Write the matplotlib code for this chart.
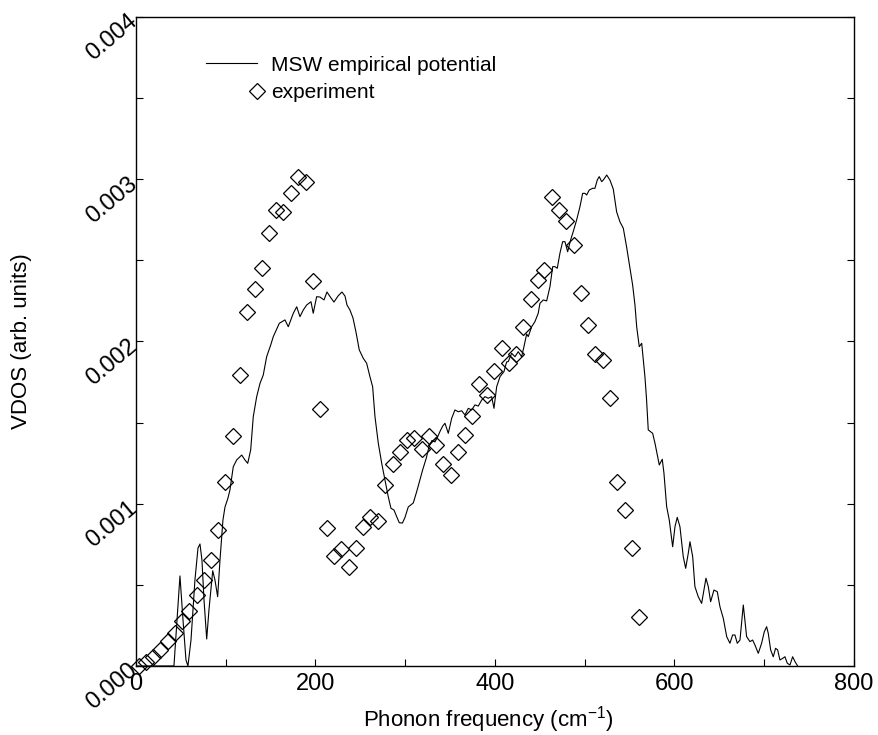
import matplotlib
matplotlib.use("Agg")
import matplotlib.pyplot as plt
from matplotlib.ticker import MultipleLocator

plt.rcParams["font.family"] = ["Liberation Sans", "DejaVu Sans"]
plt.rcParams["mathtext.fontset"] = "custom"
plt.rcParams["mathtext.rm"] = "Liberation Sans"

# ---------------------------------------------
# MSW empirical potential (simulated VDOS)
# ---------------------------------------------
sim_freq = [
    0.0, 32.3, 37.9, 42.3, 45.7, 49.0, 52.4, 55.7, 57.9, 61.3, 65.7, 69.1,
    71.3, 73.5, 75.8, 78.8, 81.3, 85.5, 88.0, 91.0, 93.6, 96.9, 99.2, 102.5,
    104.7, 108.4, 112.2, 117.8, 121.4, 124.5, 127.8, 130.7, 134.5, 138.2,
    141.8, 145.6, 150.1, 153.0, 159.7, 166.0, 169.7, 175.3, 179.1, 182.7,
    186.4, 190.2, 195.0, 197.5, 201.3, 205.0, 209.5, 212.8, 217.3, 220.6,
    225.1, 229.5, 232.9, 235.1, 238.4, 241.8, 245.1, 248.8, 253.3, 257.0,
    260.7, 263.7, 266.3, 270.0, 273.8, 277.4, 281.1, 284.1, 287.5, 290.5,
    293.4, 296.9, 299.7, 303.4, 306.1, 309.0, 312.8, 315.9, 319.4, 323.5,
    326.5, 329.8, 333.1, 336.2, 338.7, 341.8, 344.3, 348.0, 351.8, 355.4,
    359.1, 362.9, 366.6, 370.3, 374.0, 377.7, 381.4, 385.2, 388.9, 392.5,
    396.3, 398.9, 401.9, 405.6, 410.0, 413.0, 414.8, 418.6, 422.3, 425.9,
    429.7, 432.3, 435.3, 437.1, 440.9, 444.6, 448.2, 450.1, 453.8, 457.6,
    461.3, 464.3, 466.9, 469.4, 472.4, 475.4, 478.0, 481.0, 484.3, 487.2,
    491.0, 494.7, 497.7, 500.3, 502.2, 505.1, 508.9, 511.4, 514.0, 516.2,
    518.9, 520.7, 524.5, 528.1, 531.8, 535.6, 539.3, 543.0, 546.7, 550.4,
    553.4, 556.0, 557.9, 560.8, 563.5, 567.1, 568.8, 570.8, 575.7, 578.3,
    583.1, 586.4, 588.3, 591.3, 594.2, 598.0, 600.6, 603.1, 606.1, 609.8,
    612.5, 615.4, 617.3, 620.3, 622.8, 626.5, 630.3, 632.9, 635.1, 637.7,
    640.3, 644.0, 647.7, 650.7, 654.4, 658.2, 661.8, 664.8, 667.4, 670.0,
    673.0, 676.7, 680.4, 684.1, 687.1, 689.7, 693.4, 697.1, 700.1, 702.7,
    704.5, 707.2, 710.1, 712.7, 715.0, 717.5, 720.6, 723.1, 725.7, 728.7,
    731.7, 734.3, 737.3,
]
sim_vdos = [
    0.0, 0.0, 0.0, 0.0, 0.000284, 0.000555, 0.000284, 0.000037, 0.0,
    0.00016, 0.00053, 0.000727, 0.000752, 0.000653, 0.000407, 0.000166,
    0.000345, 0.000587, 0.00053, 0.000427, 0.000653, 0.0009, 0.00098,
    0.001035, 0.001085, 0.001228, 0.00127, 0.0013, 0.00127, 0.001249,
    0.001331, 0.001537, 0.00166, 0.001742, 0.001793, 0.001906, 0.001978,
    0.00203, 0.002112, 0.002133, 0.002091, 0.002174, 0.002214, 0.002153,
    0.002194, 0.002225, 0.002245, 0.002174, 0.002276, 0.002274, 0.002256,
    0.002305, 0.002268, 0.002243, 0.00228, 0.002305, 0.00228, 0.002225,
    0.002194, 0.002145, 0.002059, 0.001948, 0.001896, 0.001866, 0.001783,
    0.001721, 0.001537, 0.001373, 0.001249, 0.001146, 0.001043, 0.000972,
    0.000961, 0.00092, 0.000883, 0.000881, 0.000915, 0.00098, 0.000992,
    0.001005, 0.001075, 0.001137, 0.001208, 0.001282, 0.001352, 0.00139,
    0.001381, 0.001413, 0.001445, 0.001479, 0.001496, 0.001434, 0.001527,
    0.001578, 0.001567, 0.001573, 0.001547, 0.001588, 0.001578, 0.001609,
    0.001602, 0.001639, 0.00166, 0.00165, 0.00166, 0.001588, 0.001721,
    0.001783, 0.001814, 0.001874, 0.001876, 0.001927, 0.001906, 0.001937,
    0.001906, 0.001968, 0.002046, 0.00203, 0.002091, 0.002123, 0.002174,
    0.002235, 0.002256, 0.00225, 0.002338, 0.002461, 0.002461, 0.002451,
    0.002544, 0.002615, 0.002615, 0.002553, 0.002626, 0.002677, 0.002749,
    0.002831, 0.002913, 0.002913, 0.002903, 0.002934, 0.002944, 0.002944,
    0.002995, 0.003016, 0.002985, 0.002995, 0.003026, 0.002995, 0.00294,
    0.002798, 0.002737, 0.002698, 0.002582, 0.002453, 0.002348, 0.002225,
    0.002091, 0.001968, 0.001989, 0.001783, 0.001652, 0.001455, 0.001434,
    0.001373, 0.001239, 0.001274, 0.001188, 0.000982, 0.0009, 0.000735,
    0.000859, 0.000916, 0.000859, 0.000674, 0.000602, 0.000695, 0.000766,
    0.000674, 0.000489, 0.000427, 0.000386, 0.000468, 0.000541, 0.000489,
    0.000396, 0.000468, 0.000458, 0.000365, 0.000294, 0.000181, 0.00014,
    0.000191, 0.000191, 0.00014, 0.00016, 0.000376, 0.000181, 0.00015,
    0.00016, 0.000129, 0.000078, 0.00014, 0.000211, 0.000242, 0.000202,
    0.000099, 0.000057, 0.000109, 0.000099, 0.000037, 0.000047, 0.000057,
    0.000017, 0.000006, 0.000057, 0.000027, 0.0,
]

# ---------------------------------------------
# experiment (diamonds)
# ---------------------------------------------
exp_freq = [
    3.3, 11.1, 19.3, 27.1, 35.3, 43.5, 51.6, 59.4, 68.0, 76.1, 84.1, 91.9,
    99.7, 108.1, 116.2, 124.0, 132.3, 140.1, 148.2, 156.0, 163.8, 173.0,
    180.8, 189.1, 197.2, 205.3, 213.1, 220.9, 229.0, 237.3, 245.1, 253.3,
    260.9, 269.4, 278.0, 286.0, 294.2, 301.9, 310.1, 318.3, 326.5, 334.5,
    342.4, 350.6, 358.6, 366.8, 374.9, 382.5, 390.8, 399.2, 407.8, 415.6,
    423.1, 431.5, 439.6, 447.4, 454.9, 463.5, 471.5, 479.4, 488.4, 496.2,
    504.2, 512.0, 520.7, 528.4, 536.3, 544.5, 552.6, 560.8,
]
exp_vdos = [
    0.0, 0.0000247, 0.0000573, 0.0000986, 0.000154, 0.000205, 0.000275,
    0.000339, 0.000436, 0.00053, 0.000656, 0.000836, 0.001131, 0.001418,
    0.001792, 0.00218, 0.002322, 0.002453, 0.002671, 0.00281, 0.002796,
    0.002917, 0.003016, 0.002985, 0.002375, 0.001585, 0.000852, 0.00068,
    0.000718, 0.00061, 0.00073, 0.000855, 0.00092, 0.000892, 0.001116,
    0.001243, 0.001317, 0.001393, 0.001405, 0.001337, 0.001416, 0.001362,
    0.001245, 0.00118, 0.001316, 0.001424, 0.00154, 0.001736, 0.00167,
    0.001816, 0.001958, 0.001866, 0.001923, 0.002092, 0.002259, 0.002376,
    0.002441, 0.002889, 0.00281, 0.002741, 0.002594, 0.002296, 0.0021,
    0.001924, 0.001886, 0.001649, 0.001132, 0.000961, 0.000729, 0.000304,
]

TICK_FS = 17
LABEL_FS = 16
LEG_FS = 15

fig = plt.figure(figsize=(8.79, 7.35), dpi=100)
ax = fig.add_axes([0.1547, 0.0939, 0.8168, 0.883])

ax.plot(sim_freq, sim_vdos, color="black", lw=0.8)
ax.plot(exp_freq, exp_vdos, ls="none", marker="D", ms=8,
        mfc="none", mec="black", mew=0.9, clip_on=False)

ax.set_xlim(0, 800)
ax.set_ylim(0, 0.004)
ax.xaxis.set_major_locator(MultipleLocator(200))
ax.xaxis.set_minor_locator(MultipleLocator(100))
ax.yaxis.set_major_locator(MultipleLocator(0.001))
ax.yaxis.set_minor_locator(MultipleLocator(0.0005))
ax.yaxis.set_major_formatter(plt.FuncFormatter(lambda v, p: f"{v:.3f}"))

ax.tick_params(which="both", direction="in", length=5, width=0.8,
               top=False, right=True, labelsize=TICK_FS)
ax.tick_params(axis="x", pad=5)
ax.tick_params(axis="y", pad=2)
for lab in ax.get_yticklabels():
    lab.set_rotation(40)
    lab.set_rotation_mode("anchor")
    lab.set_ha("right")
    lab.set_va("center_baseline")

for sp in ax.spines.values():
    sp.set_linewidth(1.0)

ax.set_xlabel("Phonon frequency (cm$^{-1}$)", fontsize=LABEL_FS)
ax.xaxis.set_label_coords(0.49, -0.058)
ax.xaxis.label.set_va("top")
ax.set_ylabel("VDOS (arb. units)", fontsize=LABEL_FS)
ax.yaxis.set_label_coords(-0.145, 0.5)

# legend, drawn by hand (marker sits at the end of the line sample)
ax.plot([0.0975, 0.1682], [0.9287, 0.9287], color="black", lw=0.8,
        transform=ax.transAxes)
ax.text(0.1876, 0.9287, "MSW empirical potential", fontsize=LEG_FS,
        va="center_baseline", ha="left", transform=ax.transAxes)
ax.plot([0.1685], [0.8864], ls="none", marker="D", ms=8, mfc="none",
        mec="black", mew=0.9, transform=ax.transAxes)
ax.text(0.1876, 0.8864, "experiment", fontsize=LEG_FS,
        va="center_baseline", ha="left", transform=ax.transAxes)

fig.savefig("out.png", dpi=100)
